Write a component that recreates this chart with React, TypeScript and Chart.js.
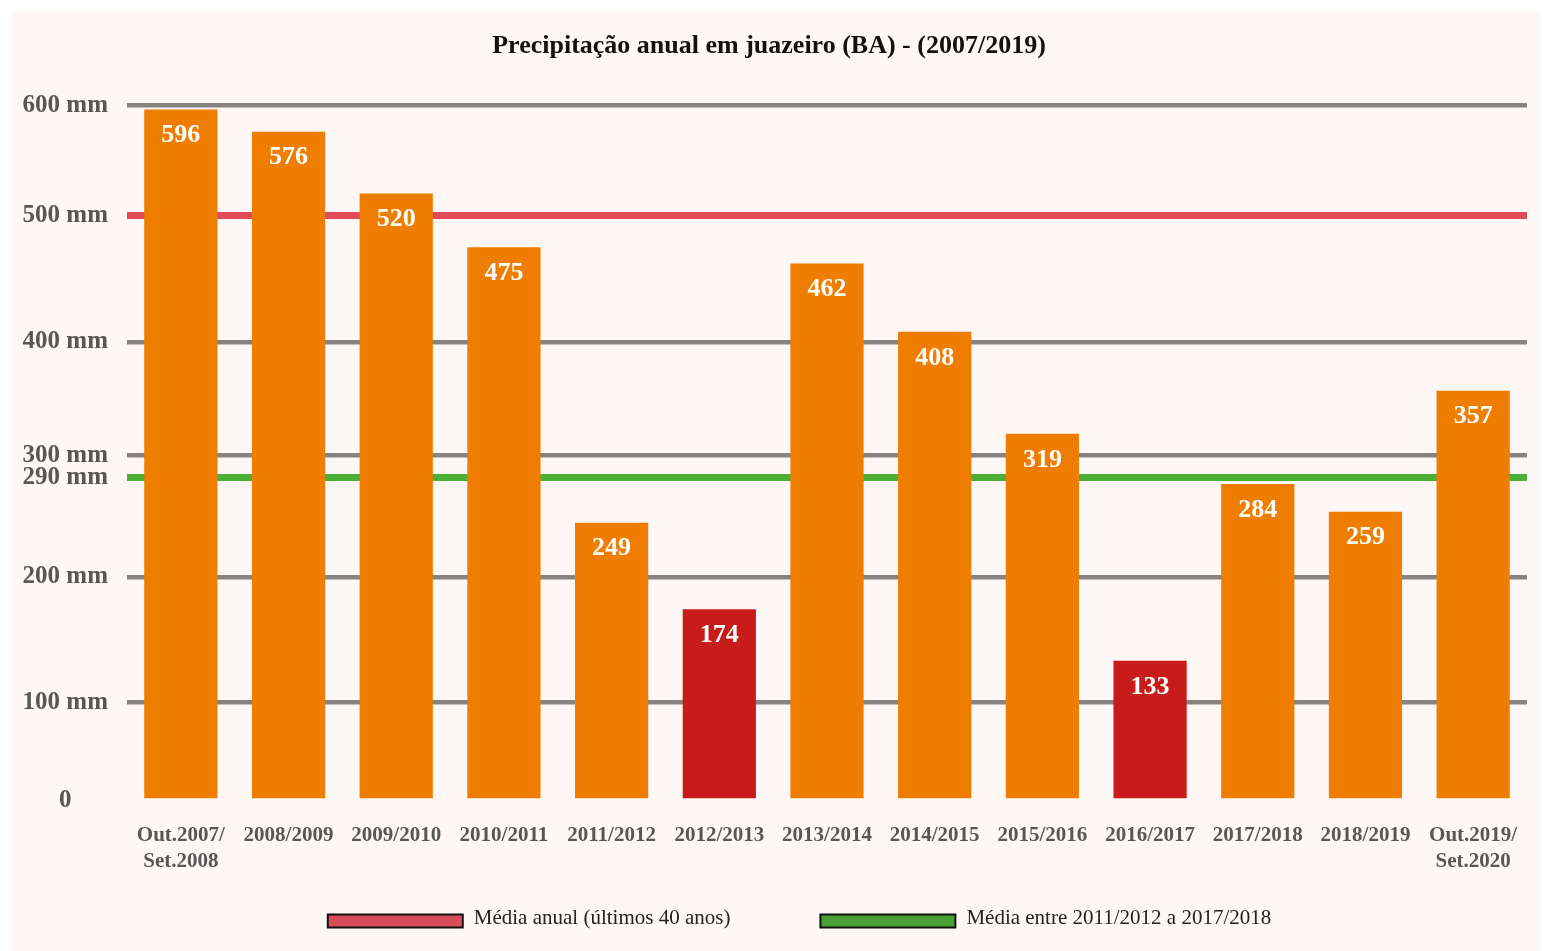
import React, { useEffect, useRef } from 'react';
import { Chart, LinearScale, registerables } from 'chart.js';

// ---------- data ----------
const categories: (string | string[])[] = [
  ['Out.2007/', 'Set.2008'],
  '2008/2009',
  '2009/2010',
  '2010/2011',
  '2011/2012',
  '2012/2013',
  '2013/2014',
  '2014/2015',
  '2015/2016',
  '2016/2017',
  '2017/2018',
  '2018/2019',
  ['Out.2019/', 'Set.2020'],
];
const rainfall = [596, 576, 520, 475, 249, 174, 462, 408, 319, 133, 284, 259, 357];
const droughtYears = ['2012/2013', '2016/2017'];
const yTickValues = [0, 100, 200, 290, 300, 400, 500, 600];
const meanLabels = ['Média anual (últimos 40 anos)', 'Média entre 2011/2012 a 2017/2018'];
const meanValues = [500, 290];
const titleText = 'Precipitação anual em juazeiro (BA) - (2007/2019)';

// ---------- style ----------
// The reference axis is drawn non-uniformly: relative height of each tick value.
const axisFractions = [0, 0.1414, 0.3218, 0.4646, 0.4964, 0.6595, 0.8413, 1];
const ORANGE = '#EF7D00';
const DARK_RED = '#C71C19';
const GRID_GRAY = '#878381';
const meanColors = ['#E04B5A', '#4DAE38'];
const legendFill = ['#D94C5A', '#48A035'];
const LABEL_GRAY = '#575757';
const BG = '#FDF8F5';
const FONT = '"Liberation Serif", "DejaVu Serif", serif';

function interp(v: number, xs: number[], ys: number[]) {
  if (v <= xs[0]) return ys[0] + (v - xs[0]) * (ys[1] - ys[0]) / (xs[1] - xs[0]);
  for (let i = 1; i < xs.length; i++) {
    if (v <= xs[i]) {
      const t = (v - xs[i - 1]) / (xs[i] - xs[i - 1]);
      return ys[i - 1] + t * (ys[i] - ys[i - 1]);
    }
  }
  const n = xs.length - 1;
  return ys[n] + (v - xs[n]) * (ys[n] - ys[n - 1]) / (xs[n] - xs[n - 1]);
}

class PiecewiseScale extends LinearScale {
  static id = 'piecewise';
  static defaults = LinearScale.defaults;
  getPixelForValue(value: number) {
    return this.getPixelForDecimal(interp(value, yTickValues, axisFractions));
  }
  getValueForPixel(pixel: number) {
    return interp(this.getDecimalForPixel(pixel), axisFractions, yTickValues);
  }
}

Chart.register(...registerables, PiecewiseScale as any);

const labelName = (c: string | string[]) => (Array.isArray(c) ? c.join(' ') : c);

const barLabelPlugin = {
  id: 'barLabels',
  afterDatasetsDraw(chart: any) {
    const ctx = chart.ctx;
    const meta = chart.getDatasetMeta(0);
    ctx.save();
    ctx.font = `bold 26px ${FONT}`;
    ctx.fillStyle = '#FFFFFF';
    ctx.textAlign = 'center';
    ctx.textBaseline = 'middle';
    meta.data.forEach((bar: any, i: number) => {
      ctx.fillText(String(rainfall[i]), bar.x, bar.y + 26);
    });
    ctx.restore();
  },
};

const meanLegendPlugin = {
  id: 'meanLegend',
  afterDraw(chart: any) {
    const ctx = chart.ctx;
    ctx.save();
    ctx.font = `21px ${FONT}`;
    const boxW = 135;
    const boxH = 13;
    const gapText = 11;
    const gapItem = 90;
    const widths = meanLabels.map((t) => boxW + gapText + ctx.measureText(t).width);
    const total = widths.reduce((a, b) => a + b, 0) + gapItem * (widths.length - 1);
    let x = chart.width / 2 + 24 - total / 2;
    const y = chart.height - 30;
    meanLabels.forEach((t, i) => {
      ctx.fillStyle = legendFill[i];
      ctx.fillRect(x, y - boxH / 2, boxW, boxH);
      ctx.strokeStyle = '#111';
      ctx.lineWidth = 2;
      ctx.strokeRect(x, y - boxH / 2, boxW, boxH);
      ctx.fillStyle = '#222';
      ctx.textAlign = 'left';
      ctx.textBaseline = 'middle';
      ctx.fillText(t, x + boxW + gapText, y - 3);
      x += widths[i] + gapItem;
    });
    ctx.restore();
  },
};

export default function App() {
  const canvasRef = useRef<HTMLCanvasElement | null>(null);

  useEffect(() => {
    if (!canvasRef.current) return;
    const chart = new Chart(canvasRef.current, {
      type: 'bar',
      data: {
        labels: categories as any,
        datasets: [
          {
            label: 'Precipitação',
            data: rainfall,
            backgroundColor: categories.map((c) =>
              droughtYears.includes(labelName(c)) ? DARK_RED : ORANGE
            ),
            borderWidth: 0,
            barPercentage: 0.68,
            categoryPercentage: 1,
          },
        ],
      },
      options: {
        animation: false,
        responsive: true,
        maintainAspectRatio: false,
        layout: { padding: { left: 0, right: 13, top: 0, bottom: 62 } },
        plugins: {
          legend: { display: false },
          tooltip: { enabled: false },
          title: {
            display: true,
            text: titleText,
            color: '#111',
            font: { family: FONT, size: 26, weight: 'bold' },
            padding: { top: 20, bottom: 43 },
          },
        },
        scales: {
          x: {
            grid: { display: false },
            border: { display: false },
            ticks: {
              autoSkip: false,
              maxRotation: 0,
              color: LABEL_GRAY,
              padding: 14,
              font: { family: FONT, size: 21, weight: 'bold', lineHeight: 1.25 },
            },
          },
          y: {
            type: 'piecewise' as any,
            min: 0,
            max: 600,
            afterBuildTicks: (scale: any) => {
              scale.ticks = yTickValues.map((v) => ({ value: v }));
            },
            afterFit: (scale: any) => {
              scale.width = 116;
            },
            border: { display: false },
            grid: {
              drawTicks: false,
              color: (ctx: any) => {
                const v = ctx.tick ? ctx.tick.value : null;
                if (v === 0) return 'rgba(0,0,0,0)';
                const mi = meanValues.indexOf(v);
                return mi >= 0 ? meanColors[mi] : GRID_GRAY;
              },
              lineWidth: (ctx: any) => {
                const v = ctx.tick ? ctx.tick.value : null;
                return meanValues.includes(v) ? 7 : 4.5;
              },
            },
            ticks: {
              crossAlign: 'center',
              padding: 19,
              color: LABEL_GRAY,
              font: { family: FONT, size: 25, weight: 'bold' },
              callback: (v: any) => (Number(v) === 0 ? '0' : `${v} mm`),
            },
          },
        },
      },
      plugins: [barLabelPlugin, meanLegendPlugin],
    });
    return () => chart.destroy();
  }, []);

  return (
    <div
      style={{
        position: 'absolute',
        left: 11,
        top: 11,
        width: 1529,
        height: 940,
        background: BG,
      }}
    >
      <canvas ref={canvasRef} />
    </div>
  );
}
